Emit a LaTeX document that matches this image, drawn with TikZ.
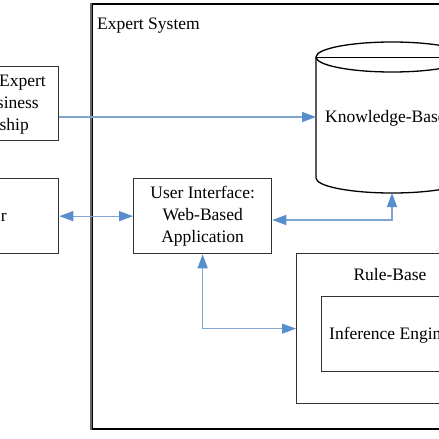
\documentclass[tikz,border=0pt]{standalone}
\usepackage{fontspec}
\setmainfont{Liberation Serif}
\usetikzlibrary{arrows.meta}
\definecolor{arrowblue}{RGB}{88,142,206}
\definecolor{lineblue}{RGB}{128,166,208}
\definecolor{boxgray}{RGB}{50,50,50}
\tikzset{
  headA/.tip={Triangle[length=14pt,width=10pt,color=arrowblue]},
  box/.style={draw=boxgray,line width=1.3pt,inner sep=0pt,anchor=north west},
  lbl/.style={font=\fontsize{17.5}{22}\selectfont,inner sep=0pt},
  conn/.style={draw=lineblue,line width=1.3pt},
}
\begin{document}
\begin{tikzpicture}[x=1pt,y=-1pt]
\useasboundingbox (0,0) rectangle (439,439);
\fill[white] (0,0) rectangle (439,439);

% Expert System frame
\node[box,draw=black,line width=1.5pt,minimum width=380pt,minimum height=425pt] (es) at (91,3) {};
\draw[draw=gray!80!black,line width=2pt] (es.north west) -- (es.south west);
\node[lbl,anchor=base west] (estxt) at (97,29) {Expert System};

% left boxes (cut by the page edge)
\node[box,minimum width=118pt,minimum height=74pt] (lb1) at (-60,66) {};
\node[lbl,anchor=base east] (lb1a) at (46,86) {Expert};
\node[lbl,anchor=base east] (lb1b) at (39,108) {siness};
\node[lbl,anchor=base east] (lb1c) at (29,130) {ship};

\node[box,minimum width=118pt,minimum height=75pt] (lb2) at (-60,178) {};
\node[lbl,anchor=base east] (lb2a) at (7,221) {r};

% User interface
\node[box,lbl,align=center,minimum width=138pt,minimum height=75pt] (ui) at (133,178)
  {User Interface:\\Web-Based\\Application};

% Knowledge-base cylinder
\draw[black,line width=1.3pt,fill=white] (316,57) -- (316,178)
  arc[start angle=180,end angle=0,x radius=76,y radius=15] -- (468,57);
\draw[black,line width=1.3pt] (392,57) ellipse[x radius=76,y radius=15];
\draw[black,line width=1pt] (316,57) -- (468,57);
\coordinate (kbin) at (316,117);
\coordinate (kbbot) at (392,193);
\node[lbl,anchor=base west] (kbtxt) at (325,122) {Knowledge-Base};

% Rule base and inference engine
\node[box,minimum width=210pt,minimum height=150pt] (rb) at (296,253) {};
\node[lbl] (rbtxt) at (390,275) {Rule-Base};
\node[box,minimum width=170pt,minimum height=75pt] (ie) at (321,296) {};
\node[lbl,anchor=base west] (ietxt) at (329,339) {Inference Engine};

% connectors
\draw[conn,-headA] (lb1.east |- kbin) -- (kbin);
\draw[conn,headA-headA] (lb2.east) -- (ui.west);
\coordinate (uiR) at (ui.east |- 0,220);
\draw[conn,headA-headA] (uiR) -| (kbbot);
\draw[conn,headA-headA] (ui.south) |- (rb.west);
\end{tikzpicture}
\end{document}
